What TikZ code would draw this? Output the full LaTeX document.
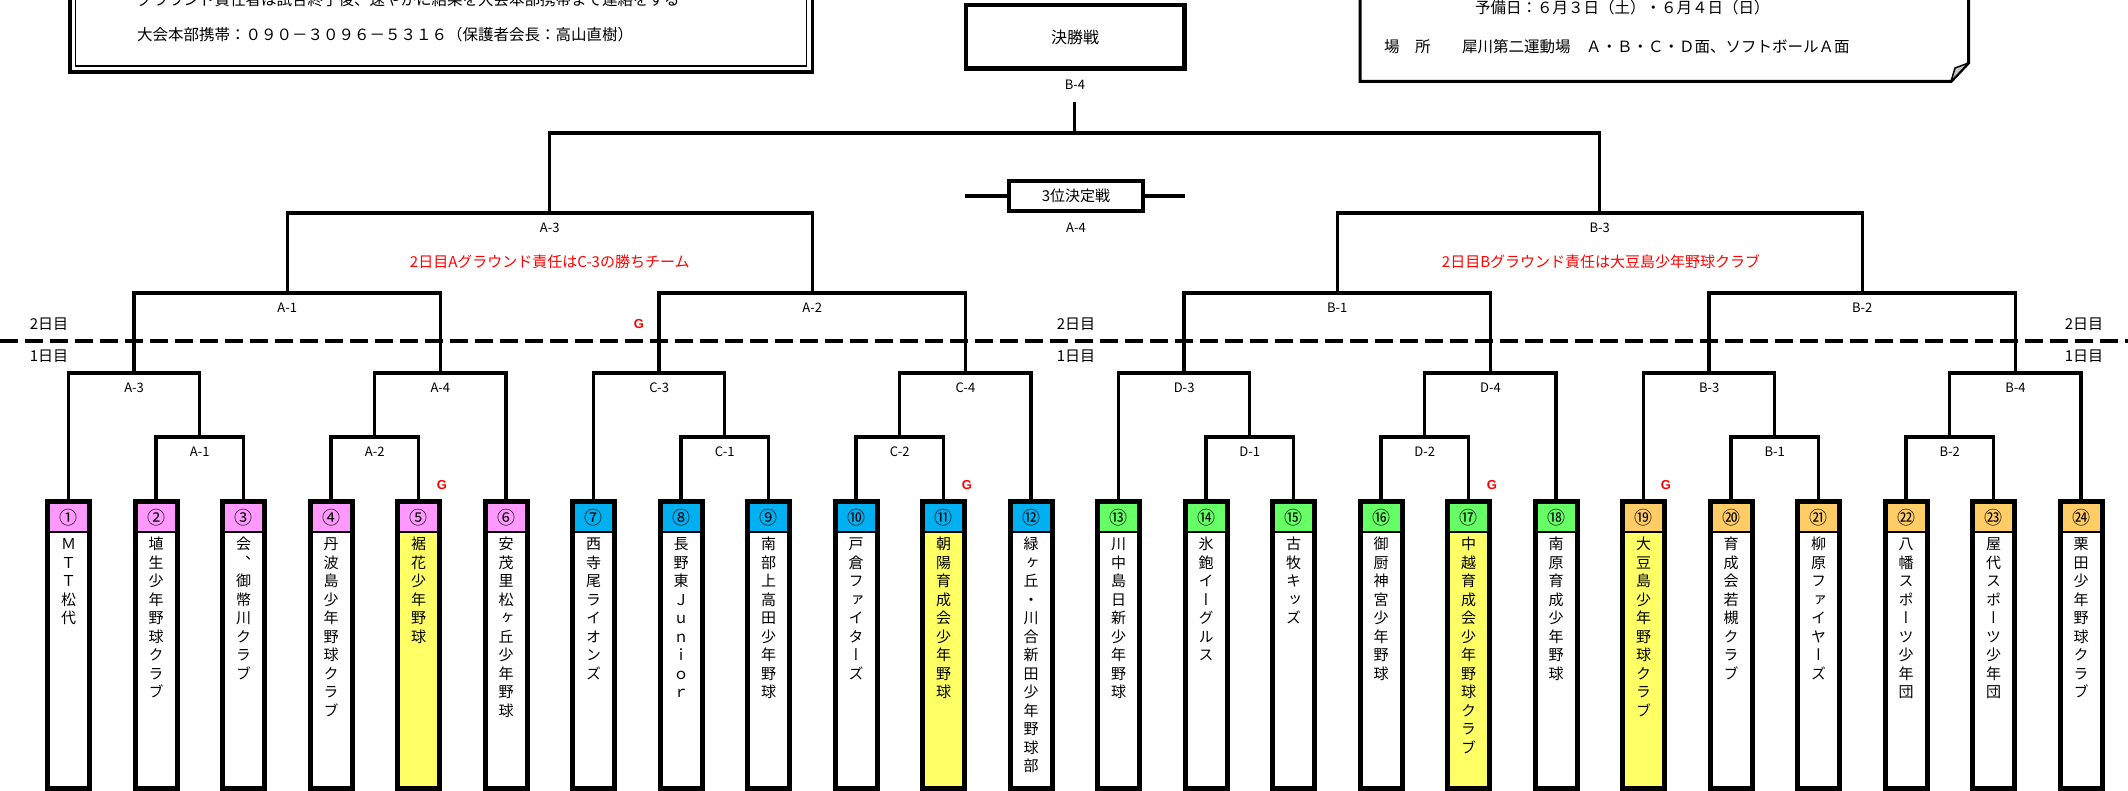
\documentclass[tikz,border=0pt]{standalone}
\usepackage{fontspec}
\setmainfont{Noto Sans CJK JP}
\newfontfamily\tatefont[RawFeature={+vert}]{Noto Sans CJK JP}
\newfontfamily\gfont{Liberation Sans}
\usetikzlibrary{positioning}

\definecolor{numpink}{RGB}{255,153,255}
\definecolor{numblue}{RGB}{0,176,240}
\definecolor{numgreen}{RGB}{102,255,102}
\definecolor{numorange}{RGB}{255,204,102}
\definecolor{winyellow}{RGB}{255,255,102}
\definecolor{notered}{RGB}{255,0,0}

\makeatletter
\newcommand\tate[1]{%
  \def\tate@go##1{\vtop{\baselineskip=18.5pt\lineskiplimit=-50pt
    \@tfor\tate@c:=##1\do{\hbox to 16pt{\hss\tate@c\hss}}}}%
  \expandafter\tate@go\expandafter{#1}}
\makeatother

\tikzset{
  teambox/.style={draw, line width=5pt, minimum width=42pt, minimum height=287pt, inner sep=0pt, outer sep=0pt, anchor=north},
  numcell/.style={minimum width=37pt, minimum height=28pt, inner sep=0pt, outer sep=0pt, font=\fontsize{18}{18}\selectfont},
  namecol/.style={inner sep=0pt, outer sep=0pt, anchor=base, font=\tatefont\fontsize{15}{18.5}\selectfont},
  bracket/.style={line width=3.3pt},
  lbl/.style={inner sep=0pt, outer sep=0pt, font=\fontsize{13}{13}\selectfont},
  note/.style={text=notered, inner sep=0pt, font=\fontsize{15}{15}\selectfont},
  gmark/.style={text=notered, inner sep=0pt, font=\gfont\bfseries\fontsize{13}{13}\selectfont},
  daylbl/.style={inner sep=0pt, font=\fontsize{15}{15}\selectfont},
  dayline/.style={line width=3.3pt, dash pattern=on 18pt off 7pt},
  matchbox/.style={draw, line width=4.5pt, inner sep=0pt, outer sep=0pt, font=\fontsize{16}{16}\selectfont},
  info/.style={anchor=west, inner sep=0pt, font=\fontsize{15.5}{15.5}\selectfont},
}

\begin{document}
\begin{tikzpicture}[x=1pt, y=-1pt]
        \useasboundingbox (0,0) rectangle (2128,791);
        \clip (0,0) rectangle (2128,791);
        \fill [white] (0,0) rectangle (2128,791);

        \draw [line width=3.5pt] (69.75,-10) -- (69.75,72) -- (812.5,72) -- (812.5,-10);
        \draw [line width=1.3pt] (75.5,-10) -- (75.5,66) -- (806.5,66) -- (806.5,-10);
        \node [info] (rule) at (137,0) {グラウンド責任者は試合終了後、速やかに結果を大会本部携帯まで連絡をする};
        \node [info] (phone) at (137,35) {大会本部携帯：０９０－３０９６－５３１６（保護者会長：高山直樹）};

        \draw [line width=3pt] (1360,-10) -- (1360,81.5) -- (1951,81.5) -- (1968.5,63) -- (1968.5,-10);
        \filldraw [fill=gray!45, line width=1.5pt, line join=round] (1951,81.5) -- (1955,68) -- (1968.5,63) -- cycle;
        \node [info] (spare) at (1475,8) {予備日：６月３日（土）・６月４日（日）};
        \node [info] (placehd) at (1384,47) {場　所};
        \node [info] (place) at (1462,47) {犀川第二運動場　Ａ・Ｂ・Ｃ・Ｄ面、ソフトボールＡ面};

        \node [matchbox, minimum width=218.5pt, minimum height=63.5pt] (final) at (1075,37) {決勝戦};
        \node [lbl, below = 11.5pt of final] (lB4) {B-4};
        \coordinate (finTop) at (1074.75,102);
        \coordinate (fin) at (1074.75,133);
        \draw [bracket] (fin) -- (finTop);

        \node [matchbox, line width=4pt, minimum width=134pt, minimum height=30pt, font=\fontsize{15}{15}\selectfont] (third) at (1076,196) {3位決定戦};
        \node [lbl, below = 12.25pt of third] (lA4) {A-4};
        \coordinate (thirdL) at (965,196);
        \coordinate (thirdR) at (1185,196);
        \draw [bracket] (thirdL) -- (third.west);
        \draw [bracket] (third.east) -- (thirdR);

        \foreach \i/\cn/\nc/\bc/\name in {
            1/①/numpink/white/ＭＴＴ松代, 2/②/numpink/white/埴生少年野球クラブ,
            3/③/numpink/white/会、御幣川クラブ, 4/④/numpink/white/丹波島少年野球クラブ,
            5/⑤/numpink/winyellow/裾花少年野球, 6/⑥/numpink/white/安茂里松ヶ丘少年野球,
            7/⑦/numblue/white/西寺尾ライオンズ, 8/⑧/numblue/white/長野東Ｊｕｎｉｏｒ,
            9/⑨/numblue/white/南部上高田少年野球, 10/⑩/numblue/white/戸倉ファイターズ,
            11/⑪/numblue/winyellow/朝陽育成会少年野球, 12/⑫/numblue/white/緑ヶ丘・川合新田少年野球部,
            13/⑬/numgreen/white/川中島日新少年野球, 14/⑭/numgreen/white/氷鉋イーグルス,
            15/⑮/numgreen/white/古牧キッズ, 16/⑯/numgreen/white/御厨神宮少年野球,
            17/⑰/numgreen/winyellow/中越育成会少年野球クラブ, 18/⑱/numgreen/white/南原育成少年野球,
            19/⑲/numorange/winyellow/大豆島少年野球クラブ, 20/⑳/numorange/white/育成会若槻クラブ,
            21/㉑/numorange/white/柳原ファイヤーズ, 22/㉒/numorange/white/八幡スポーツ少年団,
            23/㉓/numorange/white/屋代スポーツ少年団, 24/㉔/numorange/white/栗田少年野球クラブ} {
            \node [teambox, fill=\bc] (t\i) at ({68.5+87.5*(\i-1)},501.5) {};
            \node [numcell, fill=\nc, below = 2.5pt of t\i.north] (n\i) {\cn};
            \draw [line width=2.3pt] (n\i.south west) -- (n\i.south east);
            \node [namecol] (nm\i) at ({68.5+87.5*(\i-1)},549.7) {\tate{\name}};
        }

        \foreach \g/\p/\dd in {0/A/A-1, 1/C/A-2, 2/D/B-1, 3/B/B-2} {
            \pgfmathtruncatemacro\ta{6*\g+1}
            \pgfmathtruncatemacro\tb{6*\g+2}
            \pgfmathtruncatemacro\tc{6*\g+3}
            \pgfmathtruncatemacro\td{6*\g+4}
            \pgfmathtruncatemacro\te{6*\g+5}
            \pgfmathtruncatemacro\tf{6*\g+6}
            \coordinate (m\g-a) at ({68.5+87.5*(6*\g+1.5)},437);
            \coordinate (m\g-b) at ({68.5+87.5*(6*\g+3.5)},437);
            \coordinate (m\g-c) at ({68.5+87.5*(6*\g+0.75)},373);
            \coordinate (m\g-d) at ({68.5+87.5*(6*\g+4.25)},373);
            \coordinate (d\g) at ({68.5+87.5*(6*\g+2.5)},293);

            \draw [bracket] (t\tb.north) |- (m\g-a) -| (t\tc.north);
            \draw [bracket] (t\td.north) |- (m\g-b) -| (t\te.north);
            \draw [bracket] (t\ta.north) |- (m\g-c) -| (m\g-a);
            \draw [bracket] (m\g-b) |- (m\g-d) -| (t\tf.north);
            \draw [bracket] (m\g-c) |- (d\g) -| (m\g-d);

            \node [lbl, below = 10pt of m\g-a] (l\g-a) {\p-1};
            \node [lbl, below = 10pt of m\g-b] (l\g-b) {\p-2};
            \node [lbl, below = 10pt of m\g-c] (l\g-c) {\p-3};
            \node [lbl, below = 10pt of m\g-d] (l\g-d) {\p-4};
            \node [lbl, below = 10pt of d\g] (l\g-e) {\dd};
        }

        \coordinate (sA) at (549.75,213);
        \coordinate (sB) at (1599.75,213);
        \draw [bracket] (d0) |- (sA) -| (d1);
        \draw [bracket] (d2) |- (sB) -| (d3);
        \draw [bracket] (sA) |- (fin) -| (sB);
        \node [lbl, below = 10pt of sA] (lA3) {A-3};
        \node [lbl, below = 10pt of sB] (lB3) {B-3};

        \node [note] (noteA) at (549.75,262) {2日目Aグラウンド責任はC-3の勝ちチーム};
        \node [note] (noteB) at (1601,262) {2日目Bグラウンド責任は大豆島少年野球クラブ};

        \coordinate (dayL) at (0,341);
        \coordinate (dayR) at (2128,341);
        \draw [dayline] (dayL) -- (dayR);
        \foreach \x/\s in {49/l, 1076/m, 2084/r} {
            \node [daylbl] (day2\s) at (\x,324) {2日目};
            \node [daylbl] (day1\s) at (\x,356) {1日目};
        }

        \node [gmark] (gA) at (639,324) {G};
        \node [gmark] (g5) at (442,485) {G};
        \node [gmark] (g11) at (967,485) {G};
        \node [gmark] (g17) at (1492,485) {G};
        \node [gmark] (g19) at (1666,485) {G};
\end{tikzpicture}
\end{document}
